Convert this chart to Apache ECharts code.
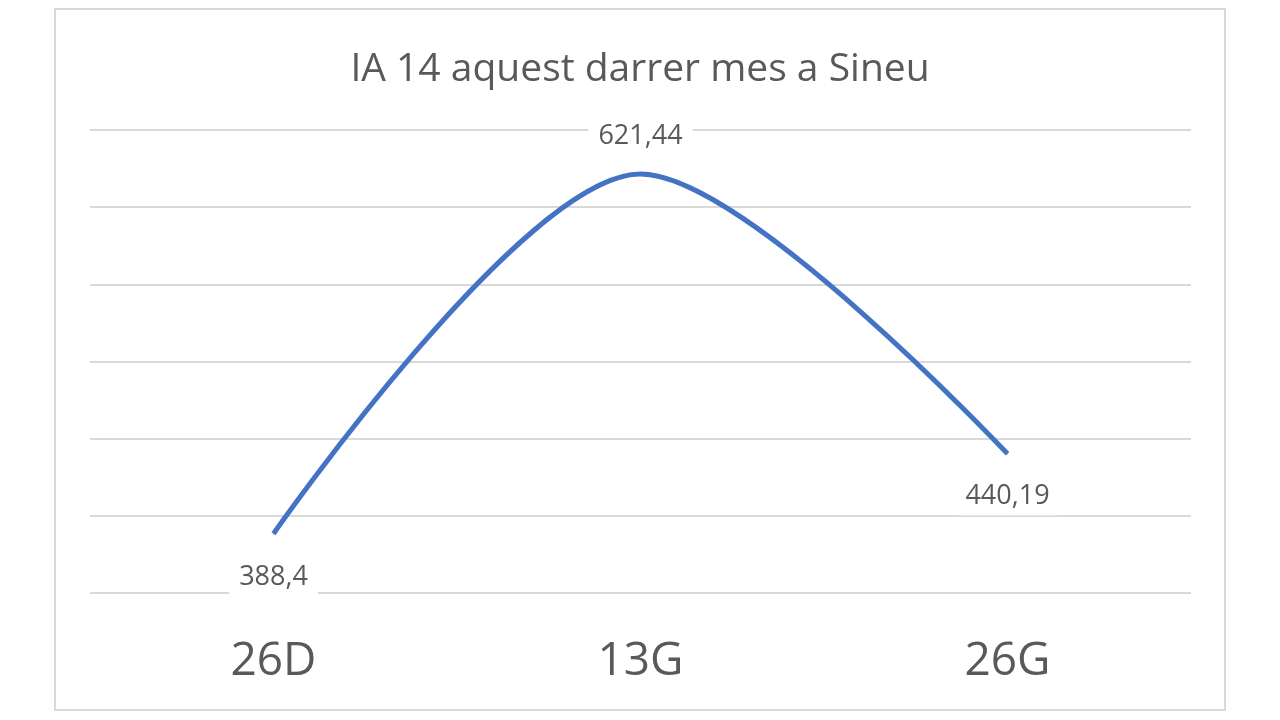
<!DOCTYPE html>
<html>
<head>
<meta charset="utf-8">
<script src="https://cdn.jsdelivr.net/npm/echarts@6/dist/echarts.min.js"></script>
<style>
html,body{margin:0;padding:0;background:#fff;}
#chart{width:1280px;height:720px;}
</style>
</head>
<body>
<div id="chart"></div>
<script>
const titleText = 'IA 14 aquest darrer mes a Sineu';
const categories = ['26D', '13G', '26G'];
const values = [388.4, 621.44, 440.19];
const labelPositions = ['bottom', 'top', 'bottom'];
const labelDistances = [25, 19, 24];
const yTicks = [350, 400, 450, 500, 550, 600, 650];

const FONT = '"Open Sans", sans-serif';

const chart = echarts.init(document.getElementById('chart'), null, {renderer: 'canvas'});

const seriesData = values.map((v, i) => ({
  value: v,
  label: {position: labelPositions[i], distance: labelDistances[i]}
}));

chart.setOption({
  animation: false,
  backgroundColor: '#ffffff',
  title: {
    text: titleText,
    left: 'center',
    top: 45,
    textStyle: {fontFamily: FONT, fontSize: 39, fontWeight: 'normal', color: '#595959'}
  },
  graphic: [{
    type: 'rect',
    shape: {x: 55, y: 9, width: 1170, height: 701},
    style: {fill: 'none', stroke: '#d9d9d9', lineWidth: 2},
    silent: true
  }],
  grid: {left: 90, right: 89, top: 130, bottom: 127, containLabel: false},
  xAxis: {
    type: 'category',
    data: categories,
    boundaryGap: true,
    axisLine: {show: false},
    axisTick: {show: false},
    axisLabel: {fontFamily: FONT, fontSize: 46, color: '#595959', margin: 46}
  },
  yAxis: {
    type: 'value',
    min: yTicks[0],
    max: yTicks[yTicks.length - 1],
    interval: yTicks[1] - yTicks[0],
    axisLabel: {show: false},
    axisLine: {show: false},
    axisTick: {show: false},
    splitLine: {lineStyle: {color: '#d9d9d9', width: 2}}
  },
  series: [{
    type: 'line',
    data: seriesData,
    smooth: 0.3,
    symbol: 'circle',
    symbolSize: 1,
    showSymbol: true,
    itemStyle: {color: '#4472C4'},
    lineStyle: {color: '#4472C4', width: 5},
    label: {
      show: true,
      fontFamily: FONT,
      fontSize: 27,
      color: '#595959',
      backgroundColor: '#ffffff',
      padding: [5, 10],
      formatter: p => String(p.value).replace('.', ',')
    }
  }]
});
</script>
</body>
</html>
